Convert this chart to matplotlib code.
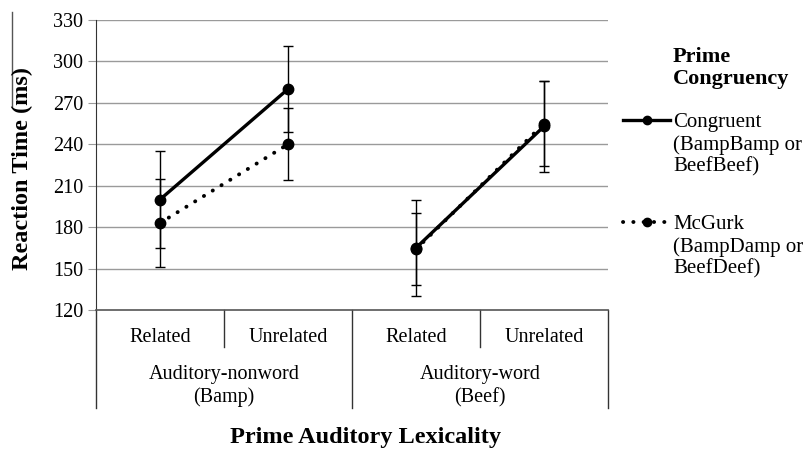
import matplotlib.pyplot as plt
from matplotlib.lines import Line2D

plt.rcParams["font.family"] = ["Liberation Serif", "DejaVu Serif"]

conditions = ["Related", "Unrelated", "Related", "Unrelated"]
groups = ["Auditory-nonword\n(Bamp)", "Auditory-word\n(Beef)"]
congruent = [200, 280, 165, 253]
congruent_err = [35, 31, 35, 33]
mcgurk = [183, 240, 164, 255]
mcgurk_err = [32, 26, 26, 31]
yticks = [120, 150, 180, 210, 240, 270, 300, 330]

W, H = 808, 449
fig = plt.figure(figsize=(W / 100, H / 100), dpi=100)
ax = fig.add_axes([96 / W, (H - 310) / H, 512 / W, 290 / H])

dots = (0, (0.05, 2.6))
x = list(range(len(conditions)))
for g in range(2):
    s = slice(2 * g, 2 * g + 2)
    ax.errorbar(x[s], congruent[s], yerr=congruent_err[s], color="black", lw=2.4,
                marker="o", markersize=7.5, ecolor="black", elinewidth=1,
                capsize=3.5, capthick=1, zorder=4)
    ax.errorbar(x[s], mcgurk[s], yerr=mcgurk_err[s], color="black", lw=2.8,
                linestyle=dots, dash_capstyle="round",
                marker="o", markersize=7.5, ecolor="black", elinewidth=1,
                capsize=3.5, capthick=1, zorder=3)

ax.set_xlim(-0.5, 3.5)
ax.set_ylim(120, 330)
ax.set_yticks(yticks)
ax.set_yticklabels([str(v) for v in yticks], fontsize=14.5)
ax.set_xticks([])
for v in yticks[1:]:
    ax.axhline(v, color="#9a9a9a", lw=1, zorder=1)
ax.tick_params(axis="y", length=6, color="#9a9a9a", pad=3)
for side in ["top", "right"]:
    ax.spines[side].set_visible(False)
ax.spines["left"].set_color("#333333")
ax.spines["bottom"].set_color("#555555")
ax.spines["bottom"].set_linewidth(1.2)

# multi-level category axis
tr = ax.get_xaxis_transform()
h_sub = 37 / 290
h_grp = 98 / 290
for i, lab in enumerate(conditions):
    ax.text(i, -27 / 290, lab, transform=tr, ha="center", va="center", fontsize=14.5)
for xv in [0.5, 2.5]:
    ax.add_line(Line2D([xv, xv], [0, -h_sub], transform=tr, color="#333333",
                       lw=1, clip_on=False))
for xv in [-0.5, 1.5, 3.5]:
    ax.add_line(Line2D([xv, xv], [0, -h_grp], transform=tr, color="#333333",
                       lw=1, clip_on=False))
for g, lab in enumerate(groups):
    ax.text(2 * g + 0.5, -76 / 290, lab, transform=tr, ha="center", va="center",
            fontsize=14.5, linespacing=1.25)

fig.text(365 / W, 1 - 437 / H, "Prime Auditory Lexicality", ha="center",
         va="center", fontsize=17.5, fontweight="bold")
fig.text(22 / W, 1 - 169 / H, "Reaction Time (ms)", ha="center", va="center",
         rotation=90, fontsize=17.5, fontweight="bold")
fig.add_artist(Line2D([12 / W, 12 / W], [1 - 12 / H, 1 - 107 / H],
                      transform=fig.transFigure, color="#555555", lw=1))

# legend
fig.text(673 / W, 1 - 68 / H, "Prime\nCongruency", ha="left", va="center",
         fontsize=16, fontweight="bold", linespacing=1.15)
fig.add_artist(Line2D([623 / W, 647 / W, 670 / W], [1 - 120 / H] * 3,
                      transform=fig.transFigure, color="black", lw=2.4,
                      marker="o", markersize=6, markevery=[1]))
fig.add_artist(Line2D([623 / W, 647 / W, 670 / W], [1 - 222 / H] * 3,
                      transform=fig.transFigure, color="black", lw=2.8,
                      linestyle=dots, dash_capstyle="round",
                      marker="o", markersize=6, markevery=[1]))
fig.text(673 / W, 1 - 145 / H, "Congruent\n(BampBamp or\nBeefBeef)", ha="left",
         va="center", fontsize=15, linespacing=1.17)
fig.text(673 / W, 1 - 247 / H, "McGurk\n(BampDamp or\nBeefDeef)", ha="left",
         va="center", fontsize=15, linespacing=1.17)

fig.savefig("out.png", dpi=100)
